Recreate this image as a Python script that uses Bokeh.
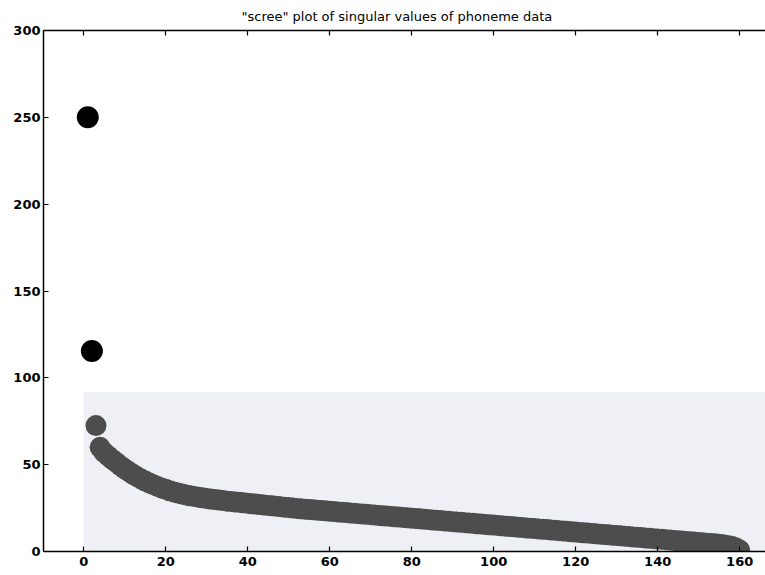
from bokeh.plotting import figure
from bokeh.models import LinearAxis, FixedTicker, Range1d, BoxAnnotation
from bokeh.embed import file_html
from bokeh.resources import INLINE

title_text = '"scree" plot of singular values of phoneme data'

x_ticks = [0, 20, 40, 60, 80, 100, 120, 140, 160]
y_ticks = [0, 50, 100, 150, 200, 250, 300]

singular_values = [
    250.0, 115.5, 72.5, 60.0, 57.0, 55.0, 53.0, 51.2, 49.3, 47.6,
    46.0, 44.5, 43.1, 41.8, 40.6, 39.5, 38.5, 37.5, 36.6, 35.8,
    35.0, 34.3, 33.7, 33.1, 32.6, 32.1, 31.7, 31.3, 30.9, 30.5,
    30.2, 29.9, 29.6, 29.3, 29.0, 28.8, 28.5, 28.3, 28.0, 27.8,
    27.5, 27.3, 27.0, 26.8, 26.5, 26.3, 26.0, 25.8, 25.5, 25.3,
    25.0, 24.8, 24.6, 24.4, 24.2, 24.0, 23.8, 23.6, 23.4, 23.2,
    23.0, 22.8, 22.6, 22.4, 22.2, 22.0, 21.8, 21.6, 21.4, 21.2,
    21.0, 20.8, 20.6, 20.4, 20.2, 20.0, 19.8, 19.6, 19.4, 19.2,
    19.0, 18.8, 18.6, 18.4, 18.2, 18.0, 17.8, 17.6, 17.4, 17.2,
    17.0, 16.8, 16.6, 16.4, 16.2, 16.0, 15.8, 15.6, 15.4, 15.2,
    15.0, 14.8, 14.6, 14.4, 14.2, 14.0, 13.8, 13.6, 13.4, 13.2,
    13.0, 12.8, 12.6, 12.4, 12.2, 12.0, 11.8, 11.6, 11.4, 11.2,
    11.0, 10.8, 10.6, 10.4, 10.2, 10.0, 9.8, 9.6, 9.4, 9.2,
    9.0, 8.8, 8.6, 8.4, 8.2, 8.0, 7.8, 7.6, 7.4, 7.2,
    7.0, 6.8, 6.6, 6.4, 6.2, 6.0, 5.8, 5.6, 5.4, 5.2,
    5.0, 4.8, 4.6, 4.4, 4.2, 3.9, 3.5, 3.0, 2.2, 0.8,
]
index = list(range(1, len(singular_values) + 1))

FONT = "DejaVu Sans"

p = figure(width=765, height=575, output_backend="svg", toolbar_location=None,
           x_range=Range1d(-9.8, 166.3), y_range=Range1d(0, 300),
           x_axis_location=None, y_axis_location=None,
           min_border_left=43, min_border_right=0, min_border_top=30,
           min_border_bottom=24)

p.title.text = title_text
p.title.align = "left"
p.title.text_font = FONT
p.title.text_font_size = "13px"
p.title.text_font_style = "normal"
p.title.text_color = "black"
p.title.offset = 198
p.title.standoff = 13
p.title.padding = 0
p.title.text_line_height = 0.8

p.grid.visible = False
p.outline_line_color = None
p.background_fill_color = "white"

# light scan-like shading near the bottom
p.add_layout(BoxAnnotation(left=0, bottom=0, top=92, fill_color="#eef0f6",
                           fill_alpha=1.0, line_color=None, level="underlay"))

def style_axis(ax, standoff):
    ax.major_tick_in = 5
    ax.major_tick_out = 0
    ax.minor_tick_in = 0
    ax.minor_tick_out = 0
    ax.axis_line_color = "black"
    ax.axis_line_width = 1.5
    ax.major_tick_line_width = 1.2
    ax.major_label_text_font = FONT
    ax.major_label_text_font_style = "bold"
    ax.major_label_text_font_size = "13px"
    ax.major_label_text_color = "black"
    ax.major_label_standoff = standoff

xb = LinearAxis(ticker=FixedTicker(ticks=x_ticks))
style_axis(xb, 5)
p.add_layout(xb, "below")

xt = LinearAxis(ticker=FixedTicker(ticks=x_ticks))
style_axis(xt, 0)
xt.major_label_overrides = {t: "" for t in x_ticks}
p.add_layout(xt, "above")

yl = LinearAxis(ticker=FixedTicker(ticks=y_ticks))
style_axis(yl, 3)
p.add_layout(yl, "left")

p.scatter(index[2:], singular_values[2:], size=21, fill_color="#4d4d4d",
          line_color=None)
p.scatter(index[:2], singular_values[:2], size=22, fill_color="black",
          line_color=None)

open("out.html", "w").write(file_html(p, INLINE))
